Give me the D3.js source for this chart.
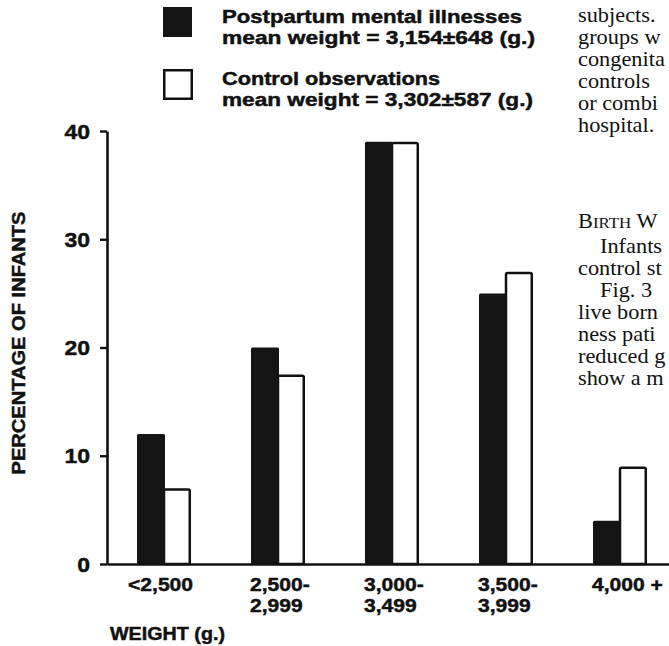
<!DOCTYPE html>
<html><head><meta charset="utf-8">
<script src="https://cdn.jsdelivr.net/npm/d3@7"></script>
<style>body{margin:0;background:#fff} svg{display:block}</style>
</head><body><svg id="c" width="669" height="646"></svg>
<script>
// ---- data ----
const categories = ["<2,500", "2,500-2,999", "3,000-3,499", "3,500-3,999", "4,000+"];
const tickLines = [["<2,500"], ["2,500-", "2,999"], ["3,000-", "3,499"], ["3,500-", "3,999"], ["4,000 +"]];
const seriesKeys = ["illness", "control"];
const illnessValues = [12, 20, 39, 25, 4];
const controlValues = [7, 17.5, 39, 27, 9];
const yTicks = [0, 10, 20, 30, 40];
const legendLines = [
  ["Postpartum mental illnesses", "mean weight = 3,154\u00b1648 (g.)"],
  ["Control observations", "mean weight = 3,302\u00b1587 (g.)"]
];
const yTitle = "PERCENTAGE OF INFANTS";
const xTitle = "WEIGHT (g.)";
const bodyTextTop = ["subjects.", "groups w", "congenita", "controls", "or combi", "hospital."];
const bodyTextBottom = ["Infants", "control st", "Fig. 3", "live born", "ness pati", "reduced g", "show a m"];

// ---- layout ----
const svg = d3.select("#c");
const FONT = "'Liberation Sans', Arial, sans-serif";
const SERIF = "'Liberation Serif', 'Times New Roman', serif";
const INK = "#111";
const x0 = 107, x1 = 677, yTop = 131, yBase = 564;

const x = d3.scaleBand().domain(categories).range([x0, x1]).paddingInner(0.526).paddingOuter(0.263);
const xs = d3.scaleBand().domain(seriesKeys).range([0, x.bandwidth()]);
const y = d3.scaleLinear().domain([0, 40]).range([yBase, yTop]);

const rows = categories.map((c, i) => ({c, illness: illnessValues[i], control: controlValues[i]}));

function boldText(sel, size) {
  return sel.attr("font-family", FONT).attr("font-weight", "bold").attr("font-size", size)
    .attr("fill", INK).attr("stroke", INK).attr("stroke-width", 0.45);
}

// bars
const g = svg.append("g");
rows.forEach(r => {
  g.append("rect")
    .attr("x", x(r.c) + xs("control"))
    .attr("y", y(r.control) + 1.25)
    .attr("width", xs.bandwidth() - 1.25)
    .attr("height", y(0) - y(r.control) - 1.25)
    .attr("fill", "#fff").attr("stroke", INK).attr("stroke-width", 2.5).attr("rx", 1.5);
  g.append("rect")
    .attr("x", x(r.c) + xs("illness"))
    .attr("y", y(r.illness))
    .attr("width", xs.bandwidth() + 1)
    .attr("height", y(0) - y(r.illness))
    .attr("fill", "#141414").attr("rx", 1.5);
});

// y axis
const yAxis = svg.append("g").attr("transform", `translate(${x0},0)`)
  .call(d3.axisLeft(y).tickValues(yTicks).tickSize(7).tickSizeOuter(0).tickPadding(10).tickFormat(d3.format("d")));
yAxis.select(".domain").attr("stroke", INK).attr("stroke-width", 2.6);
yAxis.selectAll(".tick line").attr("stroke", INK).attr("stroke-width", 2.4);
yAxis.selectAll(".tick text").each(function() {
  const t = d3.select(this);
  boldText(t, 20).attr("dy", "0.36em").attr("x", null)
    .attr("transform", "translate(-17,0) scale(1.15,1)");
});

// x axis baseline
const xAxis = svg.append("g").attr("transform", `translate(0,${yBase})`)
  .call(d3.axisBottom(x).tickSize(0).tickSizeOuter(0).tickFormat(""));
xAxis.select(".domain").attr("stroke", INK).attr("stroke-width", 2.6);

// x tick labels
tickLines.forEach((lines, i) => {
  const c = categories[i];
  lines.forEach((t, j) => {
    const lt = t.startsWith("<");
    const tx = lt ? x(c) + x.bandwidth() + 2 : x(c) - 1;
    boldText(svg.append("text"), 18)
      .attr("transform", `translate(${tx},${yBase + 27 + j * 21}) scale(1.17,1)`)
      .attr("text-anchor", lt ? "end" : "start")
      .text(t);
  });
});

// axis titles
boldText(svg.append("text"), 18).attr("x", 110).attr("y", 640)
  .attr("textLength", 115).attr("lengthAdjust", "spacingAndGlyphs").text(xTitle);
boldText(svg.append("text"), 19).attr("transform", "translate(25,343) rotate(-90)")
  .attr("text-anchor", "middle")
  .attr("textLength", 263).attr("lengthAdjust", "spacingAndGlyphs")
  .text(yTitle);

// legend
const legendY = [7, 69];
const legendW = [[300, 313], [218, 311]];
legendLines.forEach((lines, i) => {
  svg.append("rect")
    .attr("x", i === 0 ? 163 : 164.25).attr("y", i === 0 ? legendY[i] : legendY[i] + 1.25)
    .attr("width", i === 0 ? 29 : 27.5).attr("height", i === 0 ? 30 : 28.5)
    .attr("fill", i === 0 ? "#141414" : "#fff")
    .attr("stroke", i === 0 ? "none" : INK).attr("stroke-width", 2.5);
  lines.forEach((t, j) => {
    boldText(svg.append("text"), 18).attr("x", 222).attr("y", legendY[i] + 16 + j * 21)
      .attr("textLength", legendW[i][j]).attr("lengthAdjust", "spacingAndGlyphs")
      .text(t);
  });
});

// surrounding article text (cropped in the original)
const body = svg.append("g").attr("font-family", SERIF).attr("font-size", 20.5).attr("fill", INK);
bodyTextTop.forEach((t, i) => {
  body.append("text").attr("transform", `translate(578,${22 + i * 22}) scale(1.09,1)`).text(t);
});
const head = body.append("text").attr("transform", `translate(578,228) scale(1.09,1)`);
head.append("tspan").text("B");
head.append("tspan").attr("font-size", 15.5).text("IRTH");
head.append("tspan").text(" W");
bodyTextBottom.forEach((t, i) => {
  const indent = (i === 0 || i === 2) ? 22 : 0;
  body.append("text").attr("transform", `translate(${578 + indent},${253 + i * 22}) scale(1.09,1)`).text(t);
});
</script>
</body></html>
